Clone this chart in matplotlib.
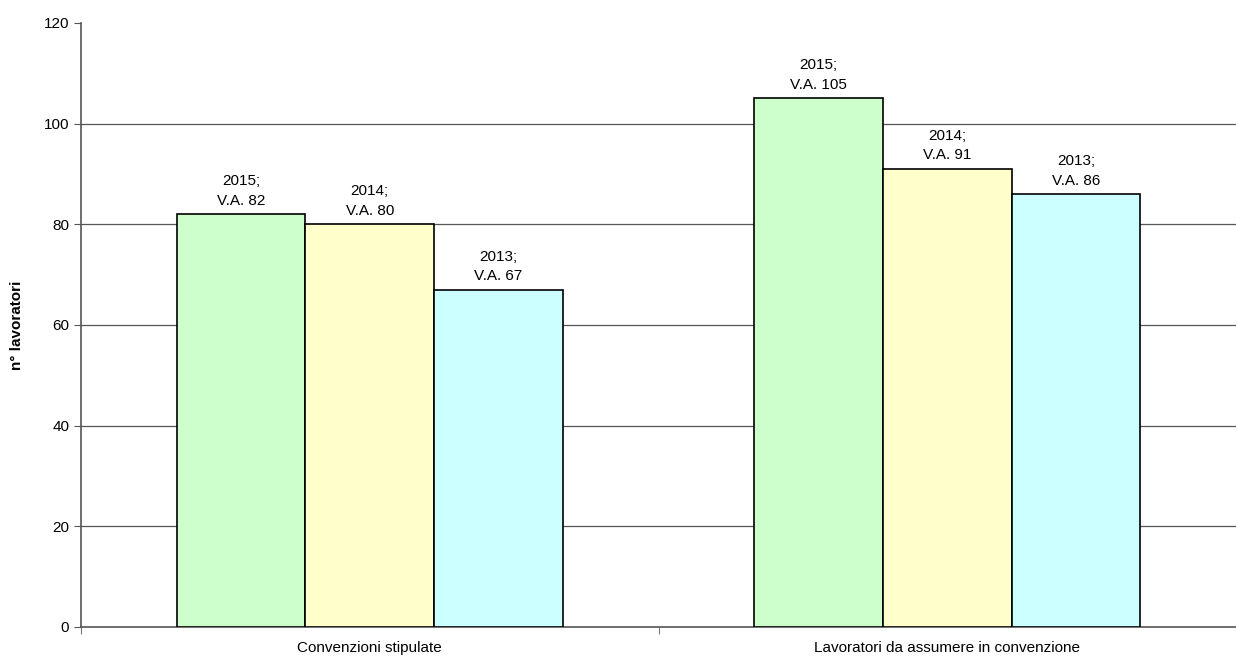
import matplotlib.pyplot as plt
import numpy as np

plt.rcParams['font.family'] = ['Liberation Sans', 'DejaVu Sans']

categories = ['Convenzioni stipulate', 'Lavoratori da assumere in convenzione']
years = ['2015', '2014', '2013']
values = {
    '2015': [82, 105],
    '2014': [80, 91],
    '2013': [67, 86],
}
colors = ['#CCFFCC', '#FFFFCC', '#CCFFFF']
yticks = [0, 20, 40, 60, 80, 100, 120]

fig = plt.figure(figsize=(12.36, 6.61), dpi=100)
ax = fig.add_axes([81 / 1236, 34 / 661, 1 - 81 / 1236, 604 / 661])

x = np.arange(len(categories))
width = 0.223
for i, (year, col) in enumerate(zip(years, colors)):
    pos = x + (i - 1) * width
    bars = ax.bar(pos, values[year], width, color=col, edgecolor='black',
                  linewidth=1.2, zorder=3)
    for b, v in zip(bars, values[year]):
        ax.text(b.get_x() + b.get_width() / 2, v + 1.3, f'{year};\nV.A. {v}',
                ha='center', va='bottom', fontsize=11, linespacing=1.5)

for t in yticks[1:-1]:
    ax.axhline(t, color='#555555', linewidth=0.9, zorder=1)

ax.set_ylim(0, 120)
ax.set_xlim(-0.5, -0.5 + (1236 - 81) / 582.5)
ax.set_yticks(yticks)
ax.set_xticks(x)
ax.set_xticklabels(categories, fontsize=11)
ax.tick_params(axis='x', length=0, pad=10)
ax.set_xticks([-0.5, 0.5, 1.5], minor=True)
ax.tick_params(axis='x', which='minor', length=5, direction='out', color='#555555')
ax.tick_params(axis='y', length=5, direction='out', color='#555555', labelsize=11)
ax.set_ylabel('n° lavoratori', fontsize=11, fontweight='bold', labelpad=14)

for s in ['top', 'right']:
    ax.spines[s].set_visible(False)
for s in ['left', 'bottom']:
    ax.spines[s].set_color('#555555')
    ax.spines[s].set_linewidth(1.2)

fig.savefig('out.png', dpi=100)
